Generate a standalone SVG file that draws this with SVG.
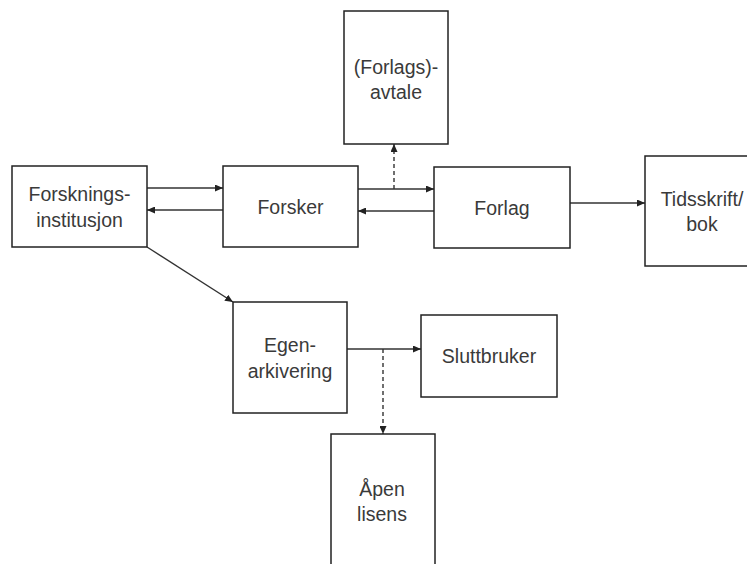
<svg xmlns="http://www.w3.org/2000/svg" width="747" height="564" viewBox="0 0 747 564">
  <defs>
    <marker id="arrow" markerUnits="userSpaceOnUse" markerWidth="8" markerHeight="7" refX="8" refY="3.5" orient="auto">
      <path d="M0,0 L8,3.5 L0,7 z" fill="#222"/>
    </marker>
    <style>
      .box { fill: #ffffff; stroke: #222; stroke-width: 1.5; }
      .lbl { font-family: "Liberation Sans", Arial, sans-serif; font-size: 19.5px; fill: #3a3a3a; text-anchor: middle; }
      .edge { fill: none; stroke: #333; stroke-width: 1.4; marker-end: url(#arrow); }
      .dash { stroke-dasharray: 4 3; }
    </style>
  </defs>
  <rect width="747" height="564" fill="#ffffff"/>

  <g id="connectors">
    <line class="edge" x1="147" y1="188" x2="223" y2="188"/>
    <line class="edge" x1="223" y1="210" x2="147" y2="210"/>
    <line class="edge" x1="358" y1="189" x2="434" y2="189"/>
    <line class="edge" x1="434" y1="211" x2="358" y2="211"/>
    <line class="edge dash" x1="394" y1="189" x2="394" y2="144"/>
    <line class="edge" x1="570" y1="203" x2="645" y2="203"/>
    <line class="edge" x1="147" y1="247" x2="233" y2="302"/>
    <line class="edge" x1="347" y1="349" x2="421" y2="349"/>
    <line class="edge dash" x1="383" y1="349" x2="383" y2="434"/>
  </g>

  <g id="forskningsinstitusjon">
    <rect class="box" x="12" y="166" width="135" height="81"/>
    <text class="lbl" x="79.5" y="201">Forsknings-</text>
    <text class="lbl" x="79.5" y="227">institusjon</text>
  </g>

  <g id="forsker">
    <rect class="box" x="223" y="166" width="135" height="81"/>
    <text class="lbl" x="290.5" y="213.5">Forsker</text>
  </g>

  <g id="forlagsavtale">
    <rect class="box" x="344" y="11" width="104" height="133"/>
    <text class="lbl" x="396" y="74">(Forlags)-</text>
    <text class="lbl" x="396" y="99">avtale</text>
  </g>

  <g id="forlag">
    <rect class="box" x="434" y="167" width="136" height="81"/>
    <text class="lbl" x="502" y="215">Forlag</text>
  </g>

  <g id="tidsskrift">
    <rect class="box" x="645" y="156" width="115" height="110"/>
    <text class="lbl" x="702" y="205.5">Tidsskrift/</text>
    <text class="lbl" x="702" y="231">bok</text>
  </g>

  <g id="egenarkivering">
    <rect class="box" x="233" y="302" width="114" height="111"/>
    <text class="lbl" x="290" y="352">Egen-</text>
    <text class="lbl" x="290" y="378">arkivering</text>
  </g>

  <g id="sluttbruker">
    <rect class="box" x="421" y="315" width="136" height="82"/>
    <text class="lbl" x="489" y="363">Sluttbruker</text>
  </g>

  <g id="apen-lisens">
    <rect class="box" x="331" y="434" width="104" height="160"/>
    <text class="lbl" x="382" y="496">Åpen</text>
    <text class="lbl" x="382" y="521">lisens</text>
  </g>
</svg>
